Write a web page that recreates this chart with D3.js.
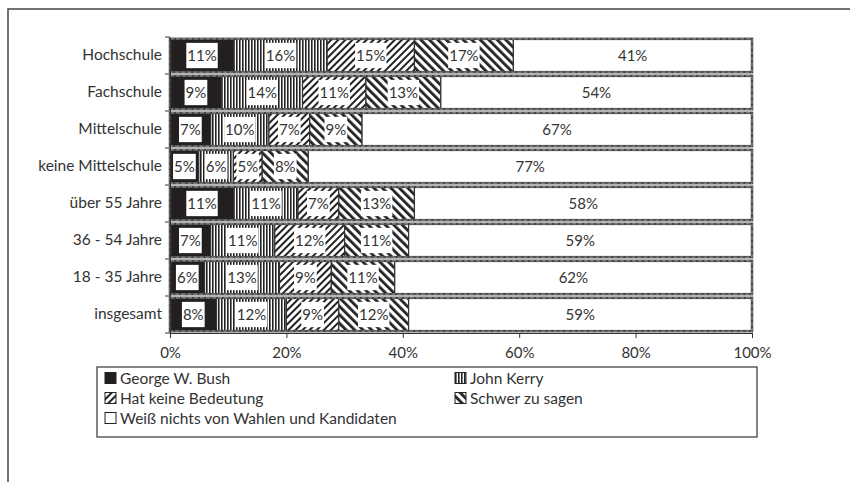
<!DOCTYPE html>
<html>
<head>
<meta charset="utf-8">
<script src="https://cdn.jsdelivr.net/npm/d3@7"></script>
<style>
  body { margin: 0; background: #fff; }
  svg text { font-family: "Lato", "Open Sans", sans-serif; fill: #333; }
</style>
</head>
<body>
<div class="chart"></div>
<script>
// categories, top to bottom
var categories = ["Hochschule", "Fachschule", "Mittelschule", "keine Mittelschule",
    "über 55 Jahre", "36 - 54 Jahre", "18 - 35 Jahre", "insgesamt"];

var seriesNames = ["George W. Bush", "John Kerry", "Hat keine Bedeutung",
    "Schwer zu sagen", "Weiß nichts von Wahlen und Kandidaten"];

// values per series (percent), same order as categories
var bush       = [11, 9, 7, 5, 11, 7, 6, 8];
var kerry      = [16, 14, 10, 6, 11, 11, 13, 12];
var keineBed   = [15, 11, 7, 5, 7, 12, 9, 9];
var schwer     = [17, 13, 9, 8, 13, 11, 11, 12];
var weissNicht = [41, 54, 67, 77, 58, 59, 62, 59];

var xTicks = [0, 0.2, 0.4, 0.6, 0.8, 1];

var keys = ["bush", "kerry", "keineBed", "schwer", "weissNicht"];
var data = categories.map(function (c, i) {
    return {cat: c, bush: bush[i], kerry: kerry[i], keineBed: keineBed[i],
        schwer: schwer[i], weissNicht: weissNicht[i]};
});

var W = 850, H = 482;
var margin = {top: 37, left: 170, right: 98, bottom: 149};
var width = W - margin.left - margin.right,
    height = H - margin.top - margin.bottom;

var svg = d3.select("div.chart").append("svg")
    .attr("width", W)
    .attr("height", H);

// patterns
var defs = svg.append("defs");
var pv = defs.append("pattern").attr("id", "p-kerry")
    .attr("patternUnits", "userSpaceOnUse").attr("width", 3).attr("height", 3);
pv.append("rect").attr("width", 3).attr("height", 3).attr("fill", "#fff");
pv.append("rect").attr("width", 1.6).attr("height", 3).attr("fill", "#222");

var p1 = defs.append("pattern").attr("id", "p-keine")
    .attr("patternUnits", "userSpaceOnUse").attr("width", 5).attr("height", 5)
    .attr("patternTransform", "rotate(45)");
p1.append("rect").attr("width", 5).attr("height", 5).attr("fill", "#fff");
p1.append("rect").attr("width", 2).attr("height", 5).attr("fill", "#222");

var p2 = defs.append("pattern").attr("id", "p-schwer")
    .attr("patternUnits", "userSpaceOnUse").attr("width", 6).attr("height", 6)
    .attr("patternTransform", "rotate(-45)");
p2.append("rect").attr("width", 6).attr("height", 6).attr("fill", "#fff");
p2.append("rect").attr("width", 2.8).attr("height", 6).attr("fill", "#222");

var fills = {
    bush: "#231f20",
    kerry: "url(#p-kerry)",
    keineBed: "url(#p-keine)",
    schwer: "url(#p-schwer)",
    weissNicht: "#fff"
};

// outer frame (only top and left visible)
svg.append("path")
    .attr("d", "M8,482 L8,9 L850,9")
    .attr("fill", "none")
    .attr("stroke", "#444")
    .attr("stroke-width", 1.5);

var g = svg.append("g")
    .attr("transform", "translate(" + margin.left + "," + margin.top + ")");

var x = d3.scaleLinear().domain([0, 1]).range([0, width]);
var y = d3.scaleBand().domain(categories).range([0, height]).paddingInner(0.1).paddingOuter(0.05);

var stack = d3.stack().keys(keys).offset(d3.stackOffsetExpand);
var series = stack(data);

var layer = g.selectAll("g.layer")
    .data(series)
    .enter().append("g")
    .attr("class", "layer");

layer.selectAll("rect")
    .data(function (d) { return d.map(function (s) { s.key = d.key; return s; }); })
    .enter().append("rect")
    .attr("x", function (d) { return x(d[0]); })
    .attr("y", function (d) { return y(d.data.cat); })
    .attr("width", function (d) { return x(d[1]) - x(d[0]); })
    .attr("height", y.bandwidth())
    .attr("fill", function (d) { return fills[d.key]; })
    .attr("stroke", "#333")
    .attr("stroke-width", 1.2);

// bar outline (double edge look)
g.selectAll("rect.outline")
    .data(data)
    .enter().append("rect")
    .attr("class", "outline")
    .attr("x", 0)
    .attr("y", function (d) { return y(d.cat); })
    .attr("width", width)
    .attr("height", y.bandwidth())
    .attr("fill", "none")
    .attr("stroke", "#444")
    .attr("stroke-width", 2.5);
g.selectAll("rect.outline2")
    .data(data)
    .enter().append("rect")
    .attr("class", "outline2")
    .attr("x", 0)
    .attr("y", function (d) { return y(d.cat); })
    .attr("width", width)
    .attr("height", y.bandwidth())
    .attr("fill", "none")
    .attr("stroke", "#bbb")
    .attr("stroke-width", 0.7)
    .attr("stroke-dasharray", "4,2");

// value labels with white boxes
series.forEach(function (s) {
    s.forEach(function (d) {
        var cx = (x(d[0]) + x(d[1])) / 2;
        var cy = y(d.data.cat) + y.bandwidth() / 2;
        var lab = g.append("g").attr("transform", "translate(" + cx + "," + cy + ")");
        var t = lab.append("text")
            .attr("text-anchor", "middle")
            .attr("dy", "0.36em")
            .style("font-size", "15px")
            .text(d.data[s.key] + "%");
        var bb = t.node().getBBox();
        lab.insert("rect", "text")
            .attr("x", bb.x - 1)
            .attr("y", -y.bandwidth() / 2 + 4)
            .attr("width", bb.width + 2)
            .attr("height", y.bandwidth() - 8)
            .attr("fill", "#fff");
    });
});

// axes
var xAxis = d3.axisBottom(x).tickValues(xTicks).tickFormat(d3.format(".0%")).tickSize(5).tickSizeOuter(0);
var gx = g.append("g")
    .attr("transform", "translate(0," + height + ")")
    .call(xAxis);
gx.select(".domain").attr("stroke", "#333");
gx.selectAll(".tick line").attr("stroke", "#333");
gx.selectAll(".tick text").style("font-size", "15px").attr("dy", "1.15em").attr("fill", "#333");

var yAxis = d3.axisLeft(y).tickSize(0);
var gy = g.append("g").call(yAxis);
gy.select(".domain").attr("stroke", "#333");
gy.selectAll(".tick text").style("font-size", "15.5px").attr("x", -8).attr("fill", "#333");

// ticks between bands
var bounds = d3.range(categories.length + 1).map(function (i) { return i * y.step(); });
g.selectAll("line.ytick")
    .data(bounds)
    .enter().append("line")
    .attr("class", "ytick")
    .attr("x1", -5).attr("x2", 0)
    .attr("y1", function (d) { return d; })
    .attr("y2", function (d) { return d; })
    .attr("stroke", "#333");

// legend
var lg = svg.append("g").attr("transform", "translate(97,367)");
lg.append("rect")
    .attr("width", 660).attr("height", 70)
    .attr("fill", "#fff").attr("stroke", "#444").attr("stroke-width", 1.3);

var legPos = [[8, 11], [358, 11], [8, 31], [358, 31], [8, 51]];
keys.forEach(function (k, i) {
    var it = lg.append("g").attr("transform", "translate(" + legPos[i][0] + "," + legPos[i][1] + ")");
    it.append("rect")
        .attr("x", 0).attr("y", -5.5)
        .attr("width", 11).attr("height", 11)
        .attr("fill", fills[k])
        .attr("stroke", "#222").attr("stroke-width", 1);
    it.append("text")
        .attr("x", 15)
        .attr("dy", "0.36em")
        .style("font-size", "15.5px")
        .text(seriesNames[i]);
});
</script>
</body>
</html>
